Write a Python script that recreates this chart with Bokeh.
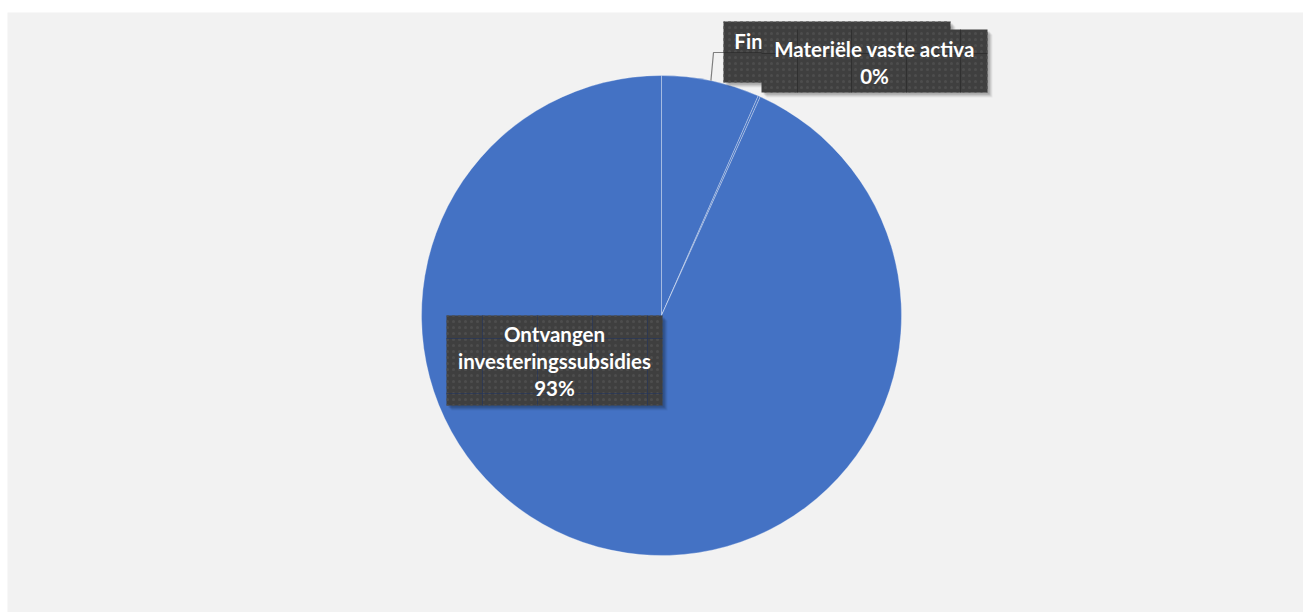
import math
from bokeh.plotting import figure
from bokeh.models import Range1d, ColumnDataSource
from bokeh.core.properties import value
from bokeh.embed import file_html
from bokeh.resources import INLINE

# ---- data ----
categories = ["Financiële vaste activa", "Materiële vaste activa", "Ontvangen investeringssubsidies"]
label_lines = [["Financiële vaste activa"], ["Materiële vaste activa"], ["Ontvangen", "investeringssubsidies"]]
values = [6.6, 0.15, 93.25]

W, H = 1303, 612
LEFT, TOP = 7, 12
def X(px):
    return px
def Y(py):
    return H - py

p = figure(width=W, height=H, output_backend="svg", toolbar_location=None,
           x_range=Range1d(LEFT, W), y_range=Range1d(0, H - TOP),
           min_border_left=LEFT, min_border_top=TOP, min_border_right=0, min_border_bottom=0)
p.axis.visible = False
p.grid.visible = False
p.outline_line_color = None
p.background_fill_color = "#f2f2f2"
p.border_fill_color = "#ffffff"

cx, cy, R = X(661), Y(315), 240
total = sum(values)
starts, ends, mids = [], [], []
cum = 0.0
for v in values:
    a0 = math.pi / 2 - 2 * math.pi * cum / total
    cum += v
    a1 = math.pi / 2 - 2 * math.pi * cum / total
    starts.append(a0); ends.append(a1); mids.append((a0 + a1) / 2)
pct = [f"{round(100 * v / total)}%" for v in values]

src = ColumnDataSource(dict(x=[cx] * 3, y=[cy] * 3, start=starts, end=ends, cat=categories))
p.wedge(x="x", y="y", radius=R, start_angle="start", end_angle="end", direction="clock",
        source=src, fill_color="#4472c4", line_color="#ffffff", line_alpha=0.3, line_width=1)

# leader line for first slice
ex = cx + R * math.cos(mids[0]); ey = cy + R * math.sin(mids[0])
p.line([ex, X(713), X(723)], [ey, Y(52), Y(52)], line_color="#7f7f7f", line_width=1.2)

font = value("Lato")

def label_box(i, left, top, right, bottom, line_y, grid_v=(), grid_h=(), grid_color="#2b2b2b"):
    for k, a in ((5, 0.05), (4, 0.07), (3, 0.09), (2, 0.11)):
        p.quad(left=X(left) + k, right=X(right) + k, top=Y(top) - k, bottom=Y(bottom) - k,
               fill_color="#000000", fill_alpha=a, line_color=None)
    p.quad(left=X(left), right=X(right), top=Y(top), bottom=Y(bottom),
           fill_color="#3f3f3f", line_color=None,
           hatch_pattern=".", hatch_color="#4d4d4d", hatch_scale=6, hatch_weight=1.2)
    for gx in grid_v:
        p.segment(X(gx), Y(top), X(gx), Y(bottom), line_color=grid_color, line_width=1, line_alpha=0.7)
    for gy in grid_h:
        p.segment(X(left), Y(gy), X(right), Y(gy), line_color=grid_color, line_width=1, line_alpha=0.7)
    lines = label_lines[i] + [pct[i]]
    xc = (left + right) / 2
    p.text(x=[X(xc)] * len(lines), y=[Y(line_y + 27 * j) for j in range(len(lines))], text=lines,
           text_font=font, text_font_style="bold", text_font_size="20.5px", text_color="#ffffff",
           text_align="center", text_baseline="middle")

label_box(2, 446, 315, 662, 405, 333, grid_v=(482, 537, 592, 647), grid_h=(338, 393), grid_color="#27365a")
label_box(0, 723, 21, 950, 82, 40, grid_h=(52,))
label_box(1, 761, 29, 987, 92, 48, grid_v=(797, 851, 906, 960), grid_h=(53,))

open("out.html", "w").write(file_html(p, INLINE))
